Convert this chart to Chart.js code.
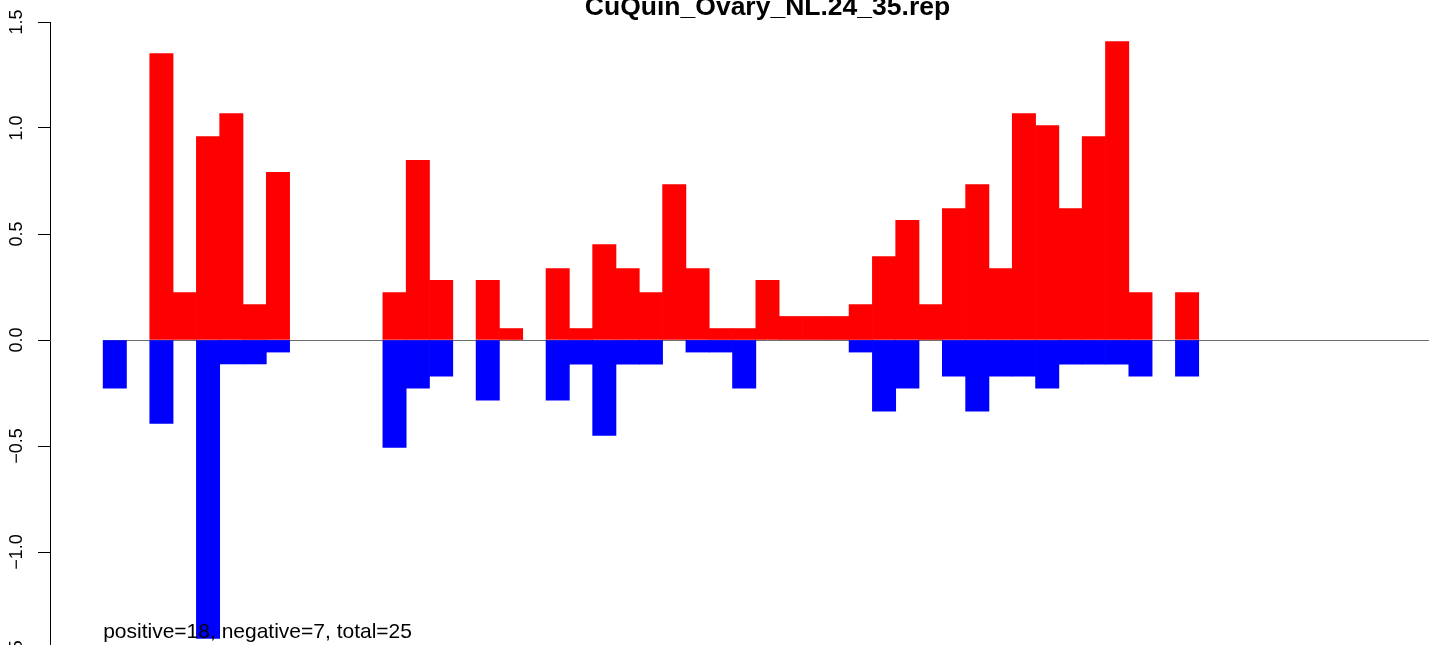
<!DOCTYPE html>
<html lang="en">
  <head>
    <meta charset="UTF-8" />
    <meta name="viewport" content="width=device-width, initial-scale=1.0" />
    <title>CuQuin_Ovary_NL.24_35.rep</title>
    <style>
      html, body { margin: 0; padding: 0; overflow: hidden; background: #fff; }
      #main-container { position: relative; width: 1485px; height: 660px; }
    </style>
  </head>
  <body>
    <div id="main-container"><canvas id="myChart"></canvas></div>

    <script src="https://cdn.jsdelivr.net/npm/chart.js"></script>

    <script>
      // one slot per position, 57 in all; null = nothing at that position
      const slots = Array.from({ length: 57 }, (_, i) => i + 1);

      const posValues = [
        null, null, 1.351, 0.224, 0.960, 1.068, 0.167, 0.791, null, null,
        null, null, 0.224, 0.847, 0.281, null, 0.281, 0.054, null, 0.337,
        0.054, 0.450, 0.337, 0.224, 0.733, 0.337, 0.054, 0.054, 0.281, 0.111,
        0.111, 0.111, 0.167, 0.394, 0.564, 0.167, 0.620, 0.733, 0.337, 1.068,
        1.012, 0.620, 0.960, 1.408, 0.224, null, 0.224, null, null, null,
        null, null, null, null, null, null, null,
      ];

      const negValues = [
        -0.227, null, -0.394, null, -1.408, -0.113, -0.113, -0.057, null, null,
        null, null, -0.507, -0.227, -0.171, null, -0.284, null, null, -0.284,
        -0.114, -0.450, -0.114, -0.114, null, -0.057, -0.057, -0.227, null, null,
        null, null, -0.057, -0.336, -0.227, null, -0.171, -0.336, -0.171, -0.171,
        -0.227, -0.114, -0.114, -0.114, -0.171, null, -0.171, null, null, null,
        null, null, null, null, null, null, null,
      ];

      const yTicks = [-1.5, -1.0, -0.5, 0.0, 0.5, 1.0, 1.5];

      const chartTitle = "CuQuin_Ovary_NL.24_35.rep";
      const summary = "positive=18, negative=7, total=25";

      const FONT = '"Liberation Sans", Arial, Helvetica, sans-serif';

      const toPoints = (vals) => vals.map((v, i) => ({ x: i, y: v }));

      // x range padded 4% on each side, like R's default axis extension
      const pad = 0.04 * slots.length;

      const extras = {
        id: "extras",
        beforeDatasetsDraw(chart) {
          const { ctx, scales } = chart;
          const x = scales.x, y = scales.y;
          const y0 = Math.round(y.getPixelForValue(0)) + 0.5;
          ctx.save();
          ctx.strokeStyle = "#6e6e6e";
          ctx.lineWidth = 1;
          ctx.beginPath();
          ctx.moveTo(x.getPixelForValue(-0.5), y0);
          ctx.lineTo(x.getPixelForValue(slots.length - 0.5), y0);
          ctx.stroke();
          ctx.restore();
        },
        afterDraw(chart) {
          const { ctx, scales, chartArea } = chart;
          const x = scales.x, y = scales.y;
          ctx.save();
          ctx.fillStyle = "#000";

          // rotated y tick labels
          ctx.font = "18px " + FONT;
          ctx.textAlign = "center";
          ctx.textBaseline = "alphabetic";
          y.ticks.forEach((t) => {
            const label = t.value.toFixed(1).replace("-", "\u2212");
            ctx.save();
            ctx.translate(chartArea.left - 28, y.getPixelForValue(t.value));
            ctx.rotate(-Math.PI / 2);
            ctx.fillText(label, 0, 0);
            ctx.restore();
          });

          // title
          ctx.font = "bold 26.5px " + FONT;
          ctx.fillText(chartTitle, (chartArea.left + chartArea.right) / 2, chartArea.top - 7);

          // counts note
          ctx.font = "21px " + FONT;
          ctx.textAlign = "left";
          ctx.fillText(summary, x.getPixelForValue(-0.5), y.getPixelForValue(-1.405));
          ctx.restore();
        },
      };

      new Chart(document.getElementById("myChart"), {
        type: "bar",
        data: {
          datasets: [
            {
              label: "positive",
              data: toPoints(posValues),
              backgroundColor: "#ff0000",
            },
            {
              label: "negative",
              data: toPoints(negValues),
              backgroundColor: "#0000ff",
            },
          ],
        },
        options: {
          responsive: true,
          maintainAspectRatio: false,
          animation: false,
          layout: { padding: { top: 22, bottom: 2, left: 0, right: 0 } },
          datasets: {
            bar: {
              grouped: false,
              barPercentage: 1,
              categoryPercentage: 1,
              borderWidth: 0,
            },
          },
          plugins: {
            legend: { display: false },
            tooltip: { enabled: false },
          },
          scales: {
            x: {
              type: "linear",
              display: false,
              offset: false,
              grid: { offset: false },
              min: -0.5 - pad,
              max: slots.length - 0.5 + pad,
              ticks: { stepSize: 10 },
            },
            y: {
              min: -1.5,
              max: 1.5,
              afterBuildTicks: (scale) => {
                scale.ticks = yTicks.map((v) => ({ value: v }));
              },
              afterFit: (scale) => {
                scale.width = 50;
              },
              ticks: { display: false },
              grid: {
                drawOnChartArea: false,
                drawTicks: true,
                tickLength: 12,
                color: "#000",
                lineWidth: 1,
              },
              border: { display: true, color: "#000", width: 1 },
            },
          },
        },
        plugins: [extras],
      });
    </script>
  </body>
</html>
